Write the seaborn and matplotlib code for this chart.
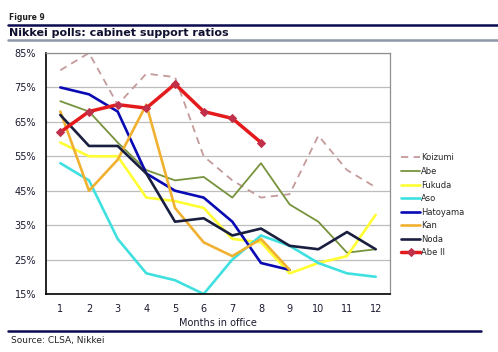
import numpy as np
import pandas as pd
import matplotlib
matplotlib.use("Agg")
import matplotlib.pyplot as plt
import seaborn as sns

months = list(range(1, 13))
koizumi = [80, 85, 70, 79, 78, 55, 48, 43, 44, 61, 51, 46]
abe = [71, 68, 59, 51, 48, 49, 43, 53, 41, 36, 27, 28]
fukuda = [59, 55, 55, 43, 42, 40, 31, 30, 21, 24, 26, 38]
aso = [53, 48, 31, 21, 19, 15, 25, 32, 29, 24, 21, 20]
hatoyama = [75, 73, 68, 50, 45, 43, 36, 24, 22]
kan = [68, 45, 54, 70, 40, 30, 26, 31, 22]
noda = [67, 58, 58, 50, 36, 37, 32, 34, 29, 28, 33, 28]
abe2 = [62, 68, 70, 69, 76, 68, 66, 59]

series_names = ["Koizumi", "Abe", "Fukuda", "Aso", "Hatoyama", "Kan", "Noda", "Abe II"]
series_vals = [koizumi, abe, fukuda, aso, hatoyama, kan, noda, abe2]
colors = ["#C49A9A", "#77933C", "#FFFF33", "#40E0E0", "#0A0AB4", "#F0B030", "#1A1F40", "#E41A1C"]
y_ticks = [15, 25, 35, 45, 55, 65, 75, 85]
y_tick_labels = [f"{v}%" for v in y_ticks]

rows = []
for name, vals in zip(series_names, series_vals):
    for m, v in zip(months, vals):
        rows.append({"Month": m, "Ratio": v, "Cabinet": name})
df = pd.DataFrame(rows)

sns.set_theme(style="white")
plt.rcParams["font.family"] = ["DejaVu Sans"]

fig = plt.figure(figsize=(4.98, 3.52), dpi=100)
ax = fig.add_axes([46 / 498, 1 - 294 / 352, (390 - 46) / 498, (294 - 53) / 352])

for name, col in zip(series_names, colors):
    sub = df[df["Cabinet"] == name]
    kw = dict(color=col, ax=ax, label=name, legend=False)
    if name == "Koizumi":
        sns.lineplot(data=sub, x="Month", y="Ratio", linewidth=1.3, **kw)
        ax.lines[-1].set_linestyle((0, (4, 3)))
    elif name == "Abe II":
        sns.lineplot(data=sub, x="Month", y="Ratio", linewidth=2.5, marker="D",
                     markersize=4, markerfacecolor="#C0304A", markeredgecolor="#C0304A", **kw)
    elif name == "Abe":
        sns.lineplot(data=sub, x="Month", y="Ratio", linewidth=1.3, **kw)
    else:
        sns.lineplot(data=sub, x="Month", y="Ratio", linewidth=1.9, **kw)

ax.set_xlim(0.5, 12.5)
ax.set_ylim(15, 85)
ax.set_yticks(y_ticks)
ax.set_yticklabels(y_tick_labels, fontsize=7, color="#1A1A30")
ax.set_xticks(months)
ax.set_xticklabels([str(m) for m in months], fontsize=7, color="#1A1A30")
ax.set_xticks(np.arange(0.5, 13, 1), minor=True)
ax.tick_params(axis="x", which="major", length=0, pad=7)
ax.tick_params(axis="x", which="minor", length=3, color="black", direction="out")
ax.tick_params(axis="y", which="major", length=4, color="black", direction="out", pad=3)
ax.set_xlabel("Months in office", fontsize=7, color="#1A1A30", labelpad=3)
ax.set_ylabel("")
ax.yaxis.grid(True, color="#BDBDBD", linewidth=0.9)
ax.set_axisbelow(True)
for s in ["top", "right"]:
    ax.spines[s].set_color("#909090")
    ax.spines[s].set_linewidth(0.9)
for s in ["left", "bottom"]:
    ax.spines[s].set_color("black")
    ax.spines[s].set_linewidth(1.2)

handles = ax.lines[:]
leg = fig.legend(handles, series_names, loc="upper left", bbox_to_anchor=(398 / 498, 1 - 150 / 352),
                 frameon=False, fontsize=6, handlelength=2.2, handletextpad=0.2,
                 labelspacing=0.55, borderaxespad=0)

# header and footer
fig.text(9 / 498, 1 - 20 / 352, "Figure 9", fontsize=5.5, fontweight="bold", color="#222222", va="baseline")
fig.add_artist(plt.Line2D([8 / 498, 1.0], [1 - 25 / 352] * 2, color="#0A0A50", linewidth=1.8))
fig.text(9 / 498, 1 - 36 / 352, "Nikkei polls: cabinet support ratios", fontsize=8,
         fontweight="bold", color="#101030", va="baseline")
fig.add_artist(plt.Line2D([8 / 498, 1.0], [1 - 40 / 352] * 2, color="#8C96A8", linewidth=1.8))
fig.add_artist(plt.Line2D([8 / 498, 481 / 498], [1 - 331 / 352] * 2, color="#0A0A50", linewidth=1.8))
fig.text(11 / 498, 1 - 343 / 352, "Source: CLSA, Nikkei", fontsize=6.5, color="#222222", va="baseline")

fig.savefig("out.png", dpi=100)
